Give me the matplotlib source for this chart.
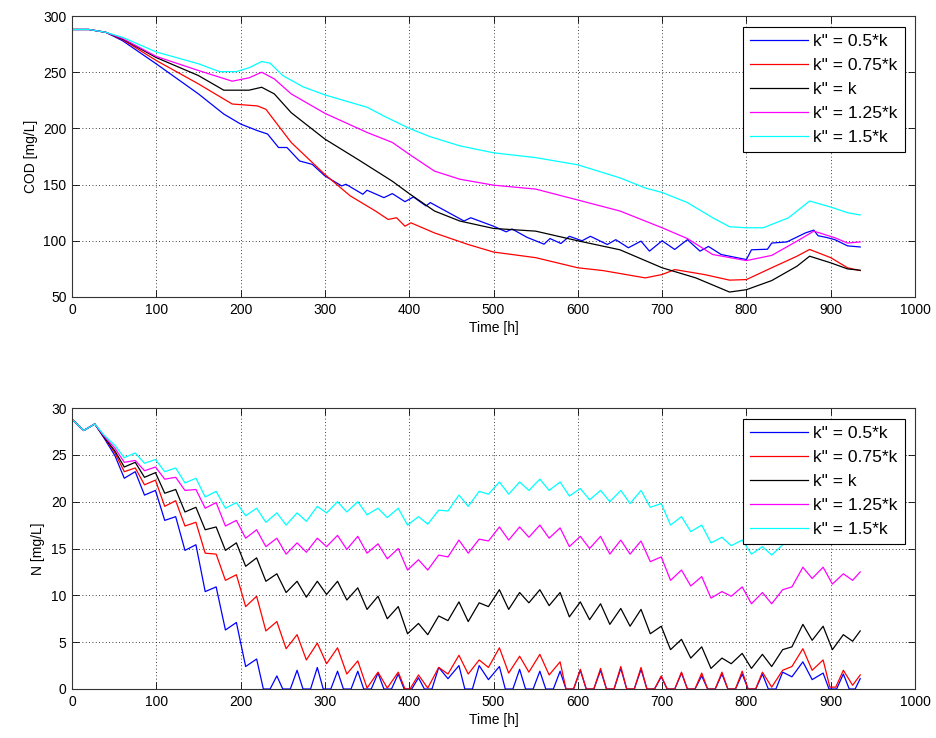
import matplotlib
matplotlib.use("Agg")
import matplotlib.pyplot as plt

# ---------------- data ----------------
labels = ['k" = 0.5*k', 'k" = 0.75*k', 'k" = k', 'k" = 1.25*k', 'k" = 1.5*k']
colors = ['#0000ff', '#ff0000', '#000000', '#ff00ff', '#00ffff']

# COD [mg/L]
cod_t_blue = [0, 20, 40, 60, 100, 150, 180, 200, 220, 232, 245, 255, 270, 285, 300, 320, 325, 345, 350,
              370, 380, 395, 405, 420, 425, 465, 473, 500, 515, 522, 540, 560, 567, 580, 590, 605, 615,
              635, 645, 660, 675, 685, 700, 715, 730, 745, 755, 770, 800, 806, 825, 830, 848, 870, 880,
              885, 895, 905, 920, 935]
cod_blue = [288, 288, 285.5, 278, 257.4, 230.7, 212.8, 203.9, 198, 195, 183, 183, 171, 168, 157.7, 148.8,
            150.3, 141.4, 145, 138.4, 142, 134.8, 139, 131, 134, 117.6, 120.5, 113, 108, 110.5, 103, 97,
            102, 97.6, 104, 100, 104, 96.7, 101, 93.8, 99.7, 90.8, 100, 92.3, 101, 90.8, 95, 87.8, 83.3,
            92, 92.5, 98, 99, 107, 109.5, 104.5, 103, 101, 95.5, 94.5]

cod_t_red = [0, 20, 40, 60, 100, 150, 190, 220, 230, 260, 300, 330, 360, 375, 385, 395, 402, 430, 470,
             500, 550, 600, 630, 680, 700, 715, 750, 780, 800, 830, 860, 875, 900, 920, 935]
cod_red = [288, 288, 285.5, 279, 260.4, 239.6, 221.7, 220, 217, 187.5, 159, 140, 126.5, 119, 120.5, 113,
           116, 107, 96.7, 90, 85, 76, 73.5, 67, 70, 74.4, 70, 65, 65.5, 76, 86.3, 92.3, 85, 76, 73.5]

cod_t_black = [0, 20, 40, 60, 100, 150, 180, 210, 225, 240, 260, 300, 340, 380, 400, 430, 460, 500, 550,
               600, 650, 700, 740, 780, 800, 830, 860, 875, 900, 920, 935]
cod_black = [288, 288, 285.5, 279.5, 263, 247, 234, 234, 236.6, 230.7, 214, 190.5, 172, 153, 142, 126.5,
             117.6, 111, 108.6, 100, 92, 76, 67, 54.4, 56.5, 64.6, 77.4, 86.3, 80.4, 75, 73.8]

cod_t_magenta = [0, 20, 40, 60, 100, 150, 190, 210, 225, 240, 260, 300, 350, 380, 400, 430, 460, 500, 550,
                 600, 650, 700, 730, 760, 800, 830, 860, 880, 905, 920, 935]
cod_magenta = [288, 288, 285.5, 280, 264, 251.5, 242, 245, 250, 244, 230.7, 213.4, 196.4, 187.5, 177, 162,
               154.8, 149.5, 146, 136.3, 126.5, 111.6, 102, 87.8, 82.4, 87, 99.7, 108.6, 102.7, 98, 99]

cod_t_cyan = [0, 20, 40, 60, 100, 150, 175, 195, 210, 225, 235, 250, 274, 300, 350, 370, 400, 425, 460, 500,
              550, 600, 650, 680, 700, 730, 760, 780, 800, 820, 850, 875, 900, 920, 935]
cod_cyan = [288, 288, 285.5, 281, 268, 257.5, 250.5, 250.5, 254, 259.5, 258, 247, 237, 229.8, 218.8, 211,
            200, 192.6, 184.5, 178.3, 174, 167.6, 156, 147, 143, 134, 120.5, 112.5, 111.6, 111.6, 120.5,
            135.4, 130, 125, 123]

# N [mg/L]
n_t = [0, 14, 27, 38, 51, 62, 75, 86, 99, 110,
       123, 134, 147, 158, 171, 182, 195, 206, 219, 230,
       243, 254, 267, 278, 291, 302, 315, 326, 339, 350,
       363, 374, 387, 398, 411, 422, 435, 446, 459, 470,
       483, 494, 507, 518, 531, 542, 555, 566, 579, 590,
       603, 614, 627, 638, 651, 662, 675, 686, 699, 710,
       723, 734, 747, 758, 771, 782, 795, 806, 819, 830,
       843, 854, 867, 878, 891, 902, 915, 926, 935]
n_cyan = [28.8, 27.6, 28.3, 27.1, 26.0, 24.7, 25.2, 24.1, 24.5, 23.2,
          23.6, 22.0, 22.5, 20.5, 21.1, 19.3, 19.9, 18.5, 19.3, 17.8,
          18.8, 17.5, 18.8, 17.9, 19.5, 18.8, 20.0, 18.9, 20.0, 18.6,
          19.3, 18.3, 19.3, 17.5, 18.4, 17.6, 19.1, 19.0, 20.7, 19.5,
          21.1, 20.8, 22.1, 20.8, 22.1, 21.2, 22.4, 21.2, 22.1, 20.6,
          21.4, 20.2, 21.2, 20.0, 21.2, 19.8, 21.2, 19.4, 19.8, 17.5,
          18.4, 16.8, 17.5, 15.6, 16.2, 15.3, 15.9, 14.4, 15.2, 14.3,
          15.4, 16.5, 18.3, 17.2, 18.2, 16.8, 17.8, 17.2, 17.9]
n_magenta = [28.8, 27.6, 28.3, 27.0, 25.7, 24.2, 24.4, 23.3, 23.7, 22.4,
             22.6, 21.2, 21.3, 19.3, 19.9, 17.4, 18.0, 16.1, 17.0, 15.2,
             16.1, 14.4, 15.6, 14.6, 16.1, 15.2, 16.4, 14.9, 16.3, 14.5,
             15.5, 13.9, 15.0, 12.7, 13.8, 12.7, 14.3, 14.1, 15.9, 14.5,
             16.0, 15.8, 17.3, 15.9, 17.3, 16.2, 17.5, 16.1, 17.2, 15.2,
             16.3, 15.0, 16.3, 14.4, 15.9, 14.4, 15.8, 13.6, 14.1, 11.6,
             12.7, 11.0, 12.0, 9.7, 10.4, 9.9, 10.9, 9.1, 10.3, 9.1,
             10.6, 10.9, 13.0, 11.8, 13.0, 11.2, 12.3, 11.6, 12.5]
n_black = [28.8, 27.6, 28.3, 26.9, 25.4, 23.7, 24.2, 22.6, 23.1, 20.9,
           21.3, 18.9, 19.4, 17.0, 17.3, 14.8, 15.6, 13.1, 14.0, 11.5,
           12.3, 10.3, 11.5, 9.8, 11.5, 10.1, 11.5, 9.5, 10.8, 8.5,
           9.9, 7.5, 8.8, 5.9, 7.0, 5.8, 7.8, 7.3, 9.3, 7.2,
           9.2, 8.8, 10.6, 8.5, 10.3, 9.2, 10.6, 8.9, 10.3, 7.7,
           9.3, 7.4, 9.1, 6.9, 8.6, 6.7, 8.5, 5.9, 6.7, 4.2,
           5.3, 3.3, 4.5, 2.2, 3.3, 2.7, 3.8, 2.2, 3.7, 2.4,
           4.2, 4.5, 6.9, 5.2, 6.7, 4.2, 5.8, 5.1, 6.2]

n_t_blue = [0, 14, 27, 38, 51, 62, 75, 86, 99, 110,
            123, 134, 147, 158, 171, 182, 195, 206, 219, 227,
            235, 243, 250, 259, 267, 274, 283, 291, 298, 307,
            315, 322, 331, 339, 346, 355, 363, 370, 379, 387,
            394, 403, 411, 418, 427, 435, 446, 459, 466, 475,
            483, 494, 507, 514, 523, 531, 538, 547, 555, 562,
            571, 579, 586, 595, 603, 610, 619, 627, 634, 643,
            651, 658, 667, 675, 682, 691, 699, 706, 715, 723,
            730, 739, 747, 754, 763, 771, 778, 787, 795, 802,
            811, 819, 826, 835, 843, 854, 867, 878, 891, 898,
            907, 915, 922, 929, 935]
n_blue = [28.8, 27.6, 28.3, 26.8, 24.9, 22.5, 23.2, 20.7, 21.2, 18.0,
          18.4, 14.8, 15.4, 10.4, 10.9, 6.3, 7.1, 2.4, 3.2, 0,
          0, 1.4, 0, 0, 2.0, 0, 0, 2.3, 0, 0,
          1.9, 0, 0, 1.9, 0, 0, 1.7, 0, 0, 1.6,
          0, 0, 1.2, 0, 0, 2.3, 1.1, 2.5, 0, 0,
          2.5, 1.0, 2.4, 0, 0, 2.1, 0, 0, 1.9, 0,
          0, 1.9, 0, 0, 2.0, 0, 0, 2.0, 0, 0,
          2.2, 0, 0, 2.1, 0, 0, 1.3, 0, 0, 1.7,
          0, 0, 1.4, 0, 0, 1.6, 0, 0, 1.6, 0,
          0, 1.6, 0, 0, 1.8, 1.3, 2.9, 1.0, 1.7, 0,
          0, 1.6, 0, 0, 1.1]

n_t_red = [0, 14, 27, 38, 51, 62, 75, 86, 99, 110,
           123, 134, 147, 158, 171, 182, 195, 206, 219, 230,
           243, 254, 267, 278, 291, 302, 315, 326, 339, 350,
           363, 374, 387, 395, 401, 411, 422, 435, 446, 459,
           470, 483, 494, 507, 518, 531, 542, 555, 566, 579,
           586, 595, 603, 610, 619, 627, 634, 643, 651, 658,
           667, 675, 682, 691, 699, 706, 715, 723, 730, 739,
           747, 754, 763, 771, 778, 787, 795, 802, 811, 819,
           830, 843, 854, 867, 878, 891, 899, 906, 915, 926,
           935]
n_red = [28.8, 27.6, 28.3, 26.9, 25.2, 23.2, 23.6, 21.8, 22.3, 19.5,
         20.1, 17.4, 17.8, 14.5, 14.4, 11.6, 12.2, 8.8, 9.9, 6.2,
         7.2, 4.3, 5.8, 3.1, 4.9, 2.7, 4.4, 1.6, 3.0, 0.1,
         1.8, 0.1, 1.8, 0, 0, 1.5, 0.1, 2.3, 1.6, 3.6,
         1.6, 3.1, 2.3, 4.4, 1.7, 3.5, 1.8, 3.7, 1.5, 2.9,
         0, 0, 2.1, 0, 0, 2.2, 0, 0, 2.4, 0,
         0, 2.3, 0, 0, 1.4, 0, 0, 1.8, 0, 0,
         1.7, 0, 0, 1.8, 0, 0, 1.9, 0, 0, 1.8,
         0.2, 2.0, 2.4, 4.3, 2.0, 3.1, 0.2, 0.2, 2.0, 0.4,
         1.5]

x_ticks = [0, 100, 200, 300, 400, 500, 600, 700, 800, 900, 1000]
cod_ticks = [50, 100, 150, 200, 250, 300]
n_ticks = [0, 5, 10, 15, 20, 25, 30]

# ---------------- plotting ----------------
plt.rcParams['font.family'] = ['Liberation Sans', 'DejaVu Sans']

W, H = 936, 738
fig = plt.figure(figsize=(W / 100, H / 100), dpi=100)
ax1 = fig.add_axes([72 / W, 1 - 297 / H, 843 / W, 281 / H])
ax2 = fig.add_axes([72 / W, 1 - 689 / H, 843 / W, 281 / H])

cod_sets = [(cod_t_blue, cod_blue), (cod_t_red, cod_red), (cod_t_black, cod_black),
            (cod_t_magenta, cod_magenta), (cod_t_cyan, cod_cyan)]
n_sets = [(n_t_blue, n_blue), (n_t_red, n_red), (n_t, n_black), (n_t, n_magenta), (n_t, n_cyan)]

def style(ax, yticks, ylim, ylabel):
    ax.set_xlim(0, 1000)
    ax.set_ylim(*ylim)
    ax.set_xticks(x_ticks)
    ax.set_yticks(yticks)
    ax.grid(True, color='black', linestyle=(0, (1, 3)), linewidth=0.6)
    ax.tick_params(direction='in', top=True, right=True, length=5, width=0.6,
                   labelsize=10, pad=4, colors='black')
    for s in ax.spines.values():
        s.set_linewidth(0.8)
        s.set_color('#333333')
    ax.set_xlabel('Time [h]', fontsize=10, labelpad=3)
    ax.set_ylabel(ylabel, fontsize=10, labelpad=4)
    leg = ax.legend(loc='upper right', prop={'family': 'Liberation Sans', 'size': 12.6},
                    handlelength=3.3, handletextpad=0.3, labelspacing=0.5,
                    borderpad=0.4, borderaxespad=0.6, fancybox=False, framealpha=1)
    leg.get_frame().set_edgecolor('black')
    leg.get_frame().set_linewidth(0.8)

for (t, v), c, lab in zip(cod_sets, colors, labels):
    ax1.plot(t, v, color=c, lw=0.9, label=lab)
style(ax1, cod_ticks, (50, 300), 'COD [mg/L]')

for (t, v), c, lab in zip(n_sets, colors, labels):
    ax2.plot(t, v, color=c, lw=0.9, label=lab)
style(ax2, n_ticks, (0, 30), 'N [mg/L]')

fig.savefig('out.png', dpi=100, facecolor='white')
